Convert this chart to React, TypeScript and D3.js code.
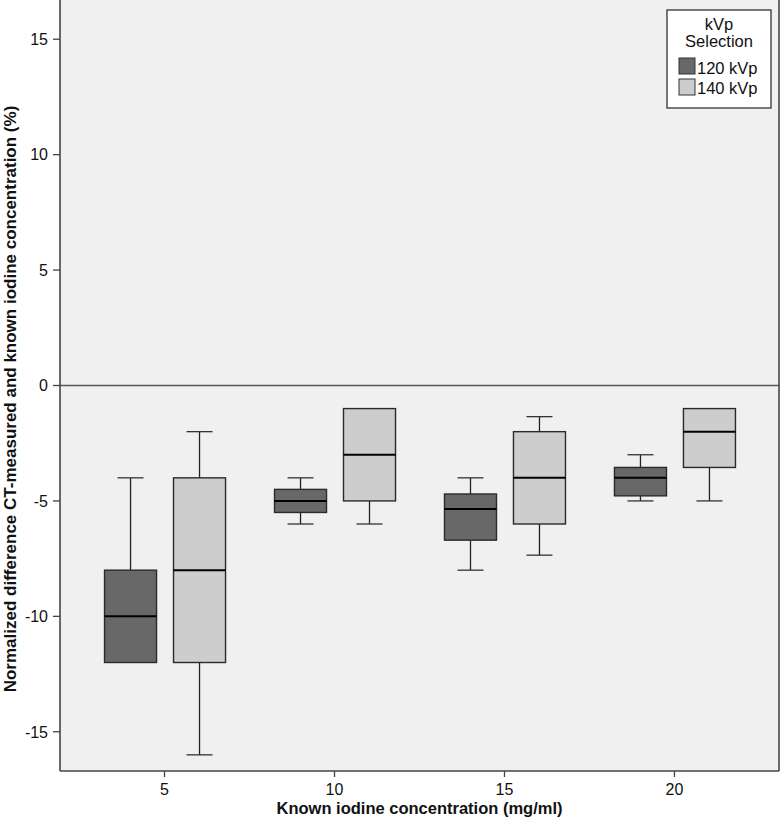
import React from "react";
import * as d3 from "d3";

const categories = ["5", "10", "15", "20"];
const series = ["120 kVp", "140 kVp"];
const seriesColors = ["#686868", "#cdcdcd"];

// 120 kVp
const low120 = [-12, -6, -8, -5];
const q1_120 = [-12, -5.5, -6.7, -4.78];
const med120 = [-10, -5, -5.35, -4];
const q3_120 = [-8, -4.5, -4.7, -3.55];
const high120 = [-4, -4, -4, -3];

// 140 kVp
const low140 = [-16, -6, -7.35, -5];
const q1_140 = [-12, -5, -6, -3.55];
const med140 = [-8, -3, -4, -2];
const q3_140 = [-4, -1, -2, -1];
const high140 = [-2, -1, -1.35, -1];

const yTicks = [-15, -10, -5, 0, 5, 10, 15];

const W = 782;
const H = 825;
const L = 60;
const R = 779;
const T = 0;
const B = 771;
const FONT = "'Liberation Sans', Arial, Helvetica, sans-serif";

export default function App() {
  const x = d3.scalePoint<string>().domain(categories).range([L, R]).padding(0.615);
  const sub = d3.scaleBand<string>().domain(series).range([-60, 61]).paddingInner(0.246).paddingOuter(0);
  const y = d3.scaleLinear().domain([-16.7, 16.7]).range([B, T]);
  const bw = sub.bandwidth();

  const data = [
    { low: low120, q1: q1_120, med: med120, q3: q3_120, high: high120 },
    { low: low140, q1: q1_140, med: med140, q3: q3_140, high: high140 },
  ];

  const boxes: any[] = [];
  series.forEach((s, si) => {
    categories.forEach((c, ci) => {
      const d = data[si];
      const x0 = (x(c) as number) + (sub(s) as number);
      const cx = x0 + bw / 2;
      const capW = bw / 2;
      const elems: any[] = [];
      if (d.high[ci] > d.q3[ci]) {
        elems.push(<line key="hw" x1={cx} x2={cx} y1={y(d.q3[ci])} y2={y(d.high[ci])} stroke="#222" strokeWidth={1.3} />);
        elems.push(<line key="hc" x1={cx - capW / 2} x2={cx + capW / 2} y1={y(d.high[ci])} y2={y(d.high[ci])} stroke="#333" strokeWidth={1.3} />);
      }
      if (d.low[ci] < d.q1[ci]) {
        elems.push(<line key="lw" x1={cx} x2={cx} y1={y(d.q1[ci])} y2={y(d.low[ci])} stroke="#222" strokeWidth={1.3} />);
        elems.push(<line key="lc" x1={cx - capW / 2} x2={cx + capW / 2} y1={y(d.low[ci])} y2={y(d.low[ci])} stroke="#333" strokeWidth={1.3} />);
      }
      elems.push(
        <rect key="b" x={x0} y={y(d.q3[ci])} width={bw} height={y(d.q1[ci]) - y(d.q3[ci])} fill={seriesColors[si]} stroke="#2a2a2a" strokeWidth={1.4} />
      );
      elems.push(<line key="m" x1={x0} x2={x0 + bw} y1={y(d.med[ci])} y2={y(d.med[ci])} stroke="#000" strokeWidth={2} />);
      boxes.push(<g key={s + c}>{elems}</g>);
    });
  });

  return (
    <svg width={W} height={H} style={{ position: "absolute", left: 0, top: 0 }} fontFamily={FONT}>
      <rect x={0} y={0} width={W} height={H} fill="#ffffff" />
      <rect x={L} y={T} width={R - L} height={B - T} fill="#f0f0f0" />
      {/* zero reference line */}
      <line x1={L} x2={R} y1={y(0)} y2={y(0)} stroke="#555" strokeWidth={1.5} />
      {boxes}
      {/* frame */}
      <line x1={L} x2={L} y1={T} y2={B} stroke="#444" strokeWidth={1.6} />
      <line x1={L} x2={R} y1={B} y2={B} stroke="#444" strokeWidth={1.6} />
      <line x1={R} x2={R} y1={T} y2={B} stroke="#444" strokeWidth={1.6} />
      {/* y ticks */}
      {yTicks.map((t) => (
        <g key={t}>
          <line x1={L - 7} x2={L} y1={y(t)} y2={y(t)} stroke="#444" strokeWidth={1.3} />
          <text x={L - 12} y={y(t)} dy="0.36em" textAnchor="end" fontSize={16} fill="#111">
            {t}
          </text>
        </g>
      ))}
      {/* x ticks */}
      {categories.map((c) => (
        <g key={c}>
          <line x1={x(c)} x2={x(c)} y1={B} y2={B + 6} stroke="#444" strokeWidth={1.3} />
          <text x={x(c)} y={795} textAnchor="middle" fontSize={16} fill="#111">
            {c}
          </text>
        </g>
      ))}
      <text x={(L + R) / 2} y={814} textAnchor="middle" fontSize={16.5} fontWeight="bold" fill="#111">
        Known iodine concentration (mg/ml)
      </text>
      <text transform={`translate(15.5, 399) rotate(-90)`} textAnchor="middle" fontSize={17} fontWeight="bold" fill="#111">
        Normalized difference CT-measured and known iodine concentration (%)
      </text>
      {/* legend */}
      <g>
        <rect x={667} y={10} width={104} height={98} fill="#ffffff" stroke="#333" strokeWidth={1.3} />
        <text x={719} y={30} textAnchor="middle" fontSize={16.5} fill="#111">kVp</text>
        <text x={719} y={47} textAnchor="middle" fontSize={16.5} fill="#111">Selection</text>
        {series.map((s, i) => (
          <g key={s}>
            <rect x={679} y={58 + i * 21} width={16} height={16} fill={seriesColors[i]} stroke="#333" strokeWidth={1} />
            <text x={697} y={74 + i * 20} fontSize={16.5} fill="#111">{s}</text>
          </g>
        ))}
      </g>
    </svg>
  );
}
